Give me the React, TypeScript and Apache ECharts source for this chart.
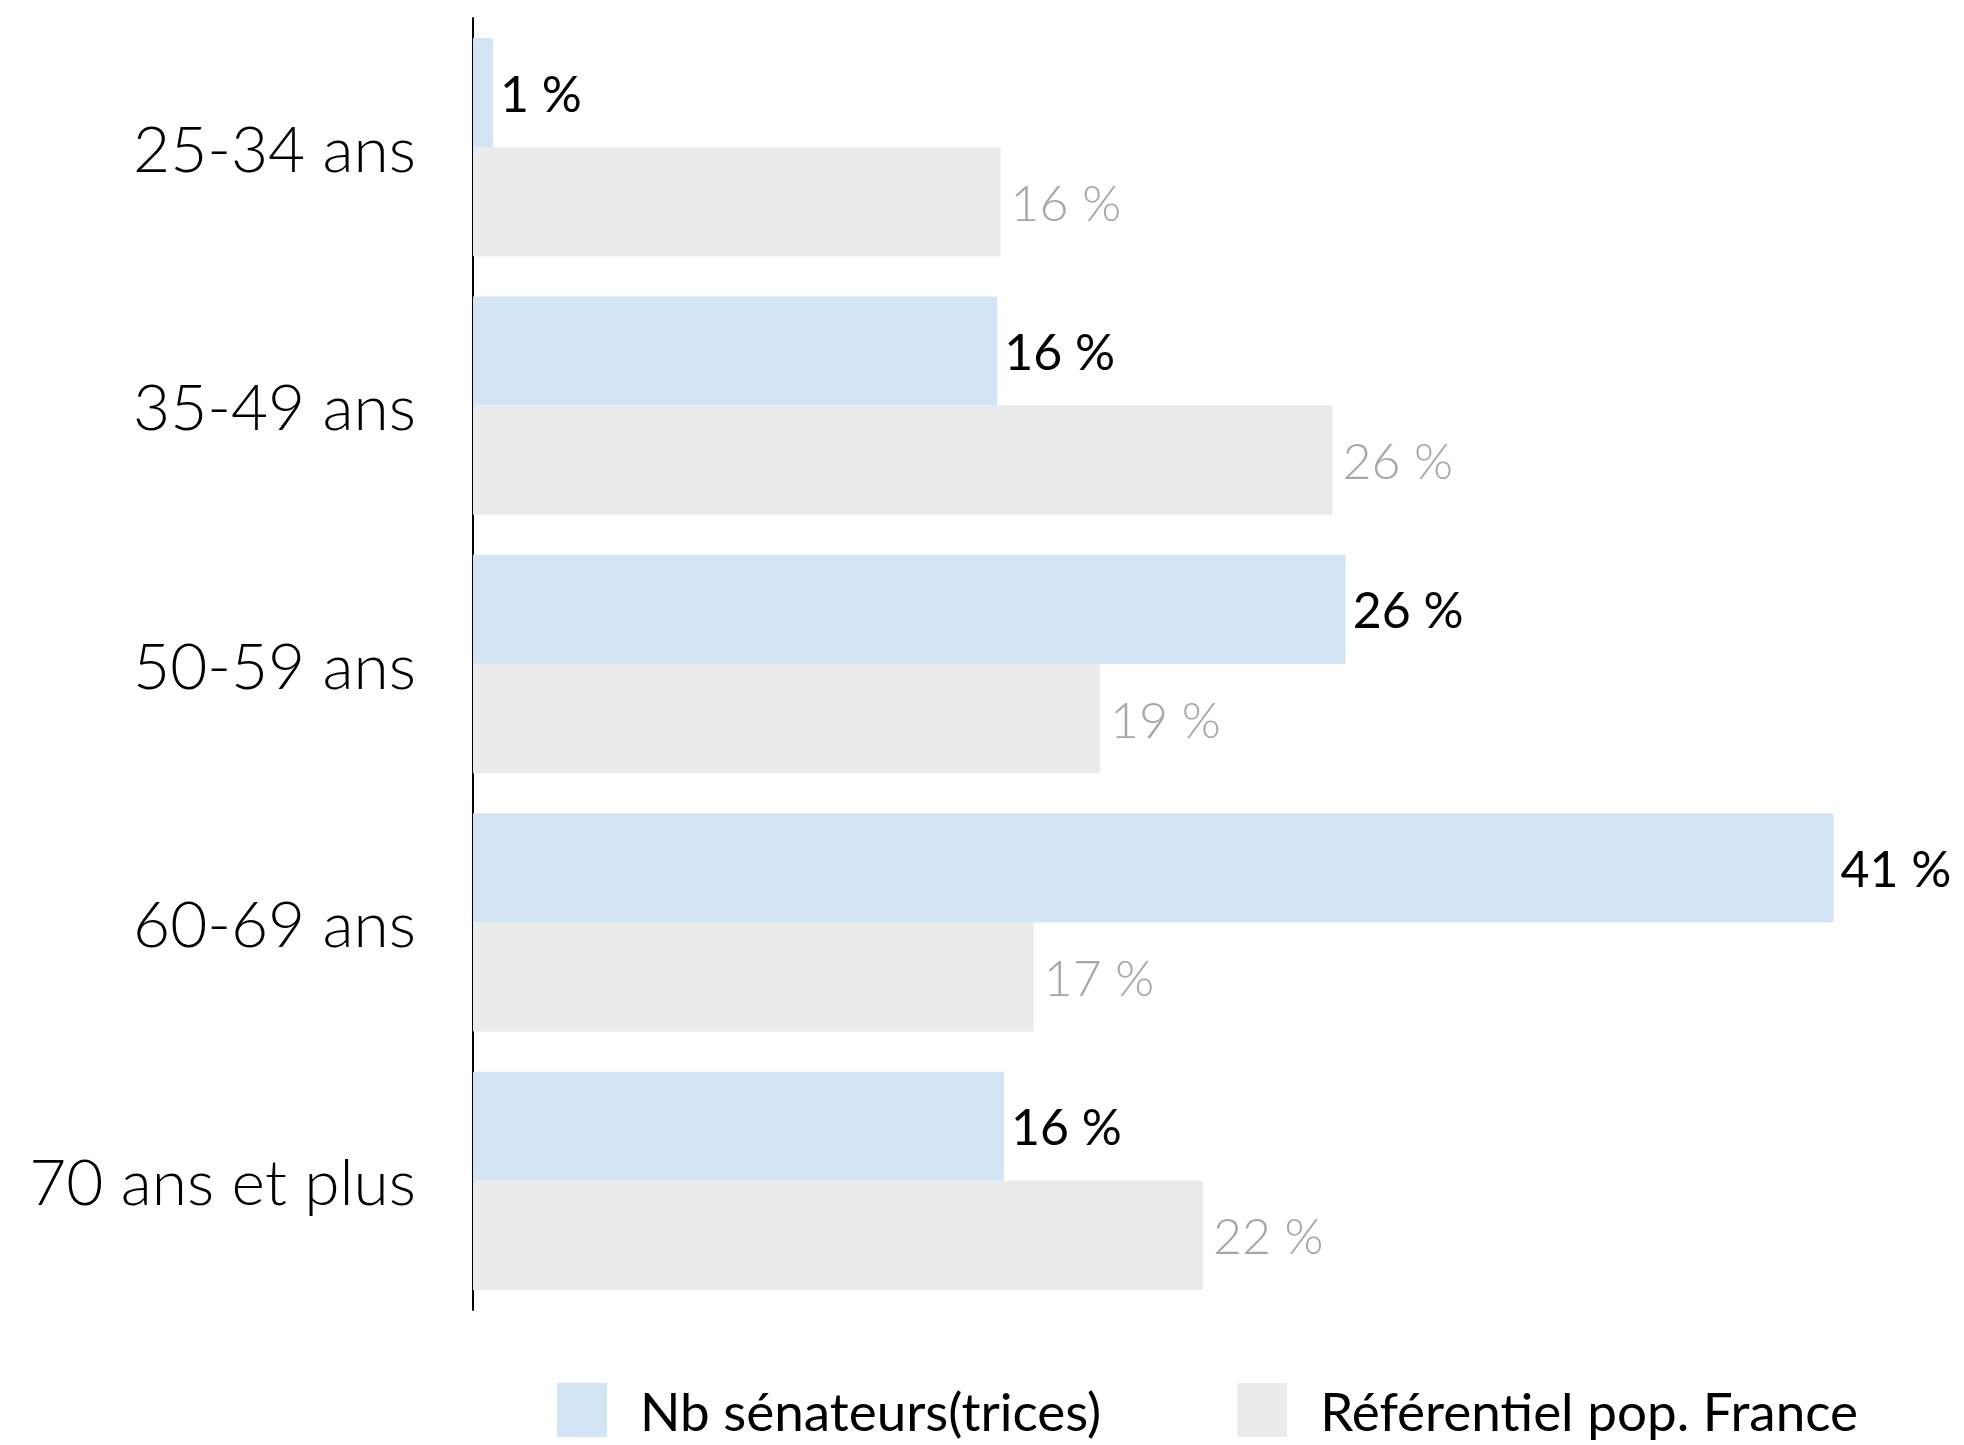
import React, { useEffect, useRef } from "react";
import * as echarts from "echarts";

const categories = ["25-34 ans", "35-49 ans", "50-59 ans", "60-69 ans", "70 ans et plus"];
const senateurs = [0.6, 15.8, 26.3, 41.0, 16.0];
const referentiel = [15.9, 25.9, 18.9, 16.9, 22.0];
const seriesNames = ["Nb sénateurs(trices)", "Référentiel pop. France"];

const FONT = "Lato, 'Noto Sans', sans-serif";

export default function App() {
  const ref = useRef<HTMLDivElement>(null);
  useEffect(() => {
    document.body.style.margin = "0";
    const chart = echarts.init(ref.current!, null, { renderer: "svg" });
    chart.setOption({
      animation: false,
      backgroundColor: "#ffffff",
      textStyle: { fontFamily: FONT },
      grid: { left: 473, top: 18, height: 1292, width: 1393.6, containLabel: false },
      legend: {
        left: 552,
        top: 1378,
        itemWidth: 50,
        itemHeight: 54,
        itemGap: 136,
        icon: "rect",
        data: seriesNames,
        textStyle: {
          fontFamily: FONT,
          fontSize: 53,
          lineHeight: 54,
          fontWeight: 400,
          color: "#000",
          padding: [0, 0, 0, 28],
        },
      },
      xAxis: {
        type: "value",
        min: 0,
        max: 42,
        show: false,
        splitLine: { show: false },
      },
      yAxis: {
        type: "category",
        data: categories,
        inverse: true,
        axisLine: { show: true, lineStyle: { color: "#000", width: 2 } },
        axisTick: { show: false },
        axisLabel: {
          margin: 57,
          fontFamily: FONT,
          fontSize: 64,
          fontWeight: 300,
          color: "#000",
        },
      },
      series: [
        {
          name: seriesNames[0],
          type: "bar",
          data: senateurs,
          barGap: "0%",
          barCategoryGap: "15.5%",
          itemStyle: { color: "#d3e5f5" },
          label: {
            show: true,
            position: "right",
            distance: 7,
            formatter: (p: any) => Math.round(p.value) + " %",
            fontFamily: FONT,
            fontSize: 50,
            fontWeight: 400,
            color: "#000",
          },
        },
        {
          name: seriesNames[1],
          type: "bar",
          data: referentiel,
          barGap: "0%",
          barCategoryGap: "15.5%",
          itemStyle: { color: "#ebebeb" },
          label: {
            show: true,
            position: "right",
            distance: 10,
            formatter: (p: any) => Math.round(p.value) + " %",
            fontFamily: FONT,
            fontSize: 50,
            fontWeight: 300,
            color: "#a6a6a6",
          },
        },
      ],
    });
    return () => chart.dispose();
  }, []);
  return (
    <div
      ref={ref}
      style={{ position: "absolute", left: 0, top: 0, width: 1964, height: 1445 }}
    />
  );
}
